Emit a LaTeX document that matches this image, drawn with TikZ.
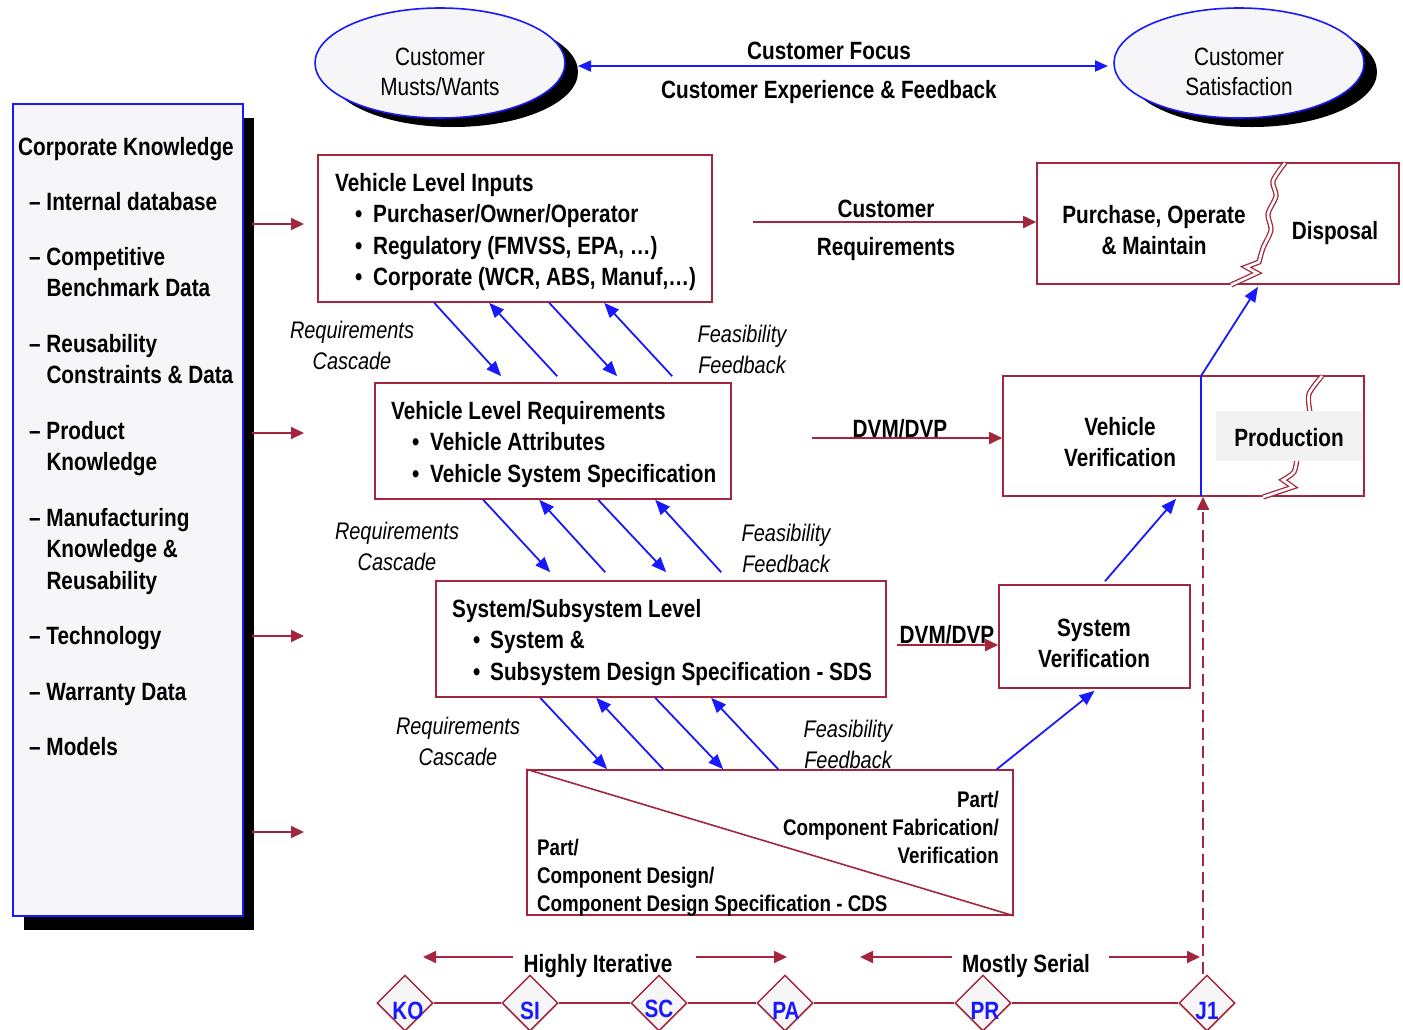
\documentclass[tikz,border=0pt]{standalone}
\usepackage{fontspec}
\setmainfont{Liberation Sans}[FakeStretch=0.83]
\usetikzlibrary{arrows.meta,shapes.geometric}
\definecolor{mred}{RGB}{163,38,60}
\definecolor{mblue}{RGB}{25,25,255}
\definecolor{pale}{RGB}{246,246,248}
\definecolor{prodgray}{RGB}{242,242,242}
\begin{document}
\begin{tikzpicture}[x=1pt,y=-1pt,
 rbox/.style={draw=mred,line width=1.6pt,inner sep=0pt},
 bt/.style={font=\fontsize{25}{31.5}\selectfont\bfseries,inner sep=0pt,align=left,anchor=base west},
 btc/.style={font=\fontsize{25}{31}\selectfont\bfseries,inner sep=0pt,align=center,anchor=base},
 pt/.style={font=\fontsize{22.6}{28.3}\selectfont\bfseries,inner sep=0pt},
 it/.style={font=\fontsize{24}{31}\selectfont\itshape,inner sep=0pt,align=center,anchor=base},
 rt/.style={font=\fontsize{25}{30.5}\selectfont,inner sep=0pt,align=center,anchor=base},
 rarr/.style={draw=mred,line width=1.8pt,-{Triangle[length=13pt,width=12pt]}},
 barr/.style={draw=mblue,line width=1.8pt,-{Triangle[length=15pt,width=12pt]}},
 squig/.style={draw=mred,double=white,line width=1.3pt,double distance=2.6pt},
 dia/.style={diamond,draw=mred,line width=1.5pt,fill=pale,minimum width=56pt,minimum height=56pt,inner sep=0pt},
 dlab/.style={font=\fontsize{25}{28}\selectfont\bfseries,text=mblue,inner sep=0pt,anchor=base},
 ell/.style={ellipse,draw=mblue,line width=1.6pt,fill=pale,minimum width=250pt,minimum height=110pt,inner sep=0pt},
 ellsh/.style={ellipse,fill=black,minimum width=250pt,minimum height=110pt,inner sep=0pt}
]
\useasboundingbox (0,0) rectangle (1403,1029);

% ---------- Ellipses ----------
\node[ellsh] (e1s) at (453,72) {};
\node[ell] (e1) at (440,63) {};
\node[rt] (e1t) at (440,95.5) {Customer\\Musts/Wants};
\node[ellsh] (e2s) at (1252,72) {};
\node[ell] (e2) at (1239,63) {};
\node[rt] (e2t) at (1239,95.5) {Customer\\Satisfaction};
\coordinate (cfl) at (578,66);
\coordinate (cfr) at (1108,66);
\draw[draw=mblue,line width=1.8pt,{Triangle[length=13pt,width=11pt]}-{Triangle[length=13pt,width=11pt]}] (cfl) -- (cfr);
\node[btc] (cf) at (829,59) {Customer Focus};
\node[btc] (cef) at (829,98) {Customer Experience \& Feedback};

% ---------- Left box ----------
\node[fill=black,minimum width=230pt,minimum height=812pt,inner sep=0pt] (lbs) at (139,524) {};
\node[draw=mblue,fill=pale,line width=1.6pt,minimum width=230pt,minimum height=812pt,inner sep=0pt] (lb) at (128,510) {};
\node[bt] (ck) at (18,155) {Corporate Knowledge};
\node[bt] (k1) at (29,210) {– Internal database};
\node[bt] (k2) at (29,296.5) {– Competitive\\\hphantom{– }Benchmark Data};
\node[bt] (k3) at (29,383.5) {– Reusability\\\hphantom{– }Constraints \& Data};
\node[bt] (k4) at (29,470.5) {– Product\\\hphantom{– }Knowledge};
\node[bt] (k5) at (29,589) {– Manufacturing\\\hphantom{– }Knowledge \&\\\hphantom{– }Reusability};
\node[bt] (k6) at (29,644) {– Technology};
\node[bt] (k7) at (29,700) {– Warranty Data};
\node[bt] (k8) at (29,755) {– Models};
\foreach \yy/\nm in {224/a,433/b,636/c,832/d}{
  \coordinate (ls\nm) at (252,\yy);
  \coordinate (le\nm) at (304,\yy);
  \draw[rarr] (ls\nm) -- (le\nm);
}

% ---------- Boxes ----------
\node[rbox,minimum width=394pt,minimum height=147pt] (vli) at (515,228.5) {};
\node[rbox,minimum width=356pt,minimum height=116pt] (vlr) at (553,441) {};
\node[rbox,minimum width=450pt,minimum height=116pt] (ssl) at (661,639) {};
\node[rbox,minimum width=486pt,minimum height=145pt] (part) at (770,842.5) {};
\node[rbox,minimum width=362pt,minimum height=121pt] (pom) at (1218,223.5) {};
\node[rbox,minimum width=361pt,minimum height=120pt] (vvp) at (1183.5,436) {};
\node[rbox,minimum width=191pt,minimum height=103pt] (sv) at (1094.5,636.5) {};

% texts in boxes
\node[bt] (vlit) at (335,285.5) {Vehicle Level Inputs\\
 \hspace*{20pt}\makebox[18pt][l]{\textbullet}Purchaser/Owner/Operator\\
 \hspace*{20pt}\makebox[18pt][l]{\textbullet}Regulatory (FMVSS, EPA, …)\\
 \hspace*{20pt}\makebox[18pt][l]{\textbullet}Corporate (WCR, ABS, Manuf,…)};
\node[bt] (vlrt) at (391,482) {Vehicle Level Requirements\\
 \hspace*{21pt}\makebox[18pt][l]{\textbullet}Vehicle Attributes\\
 \hspace*{21pt}\makebox[18pt][l]{\textbullet}Vehicle System Specification};
\node[bt] (sslt) at (452,680) {System/Subsystem Level\\
 \hspace*{21pt}\makebox[17pt][l]{\textbullet}System \&\\
 \hspace*{21pt}\makebox[17pt][l]{\textbullet}Subsystem Design Specification - SDS};

% POM with squiggle
\draw[squig] plot[smooth] coordinates {(1285,163) (1273,181) (1276,196) (1268,214) (1271,230) (1263,248) (1259,262)} -- (1246,267) -- (1257,273) -- (1231,285);
\node[btc] (pomt) at (1154,254) {Purchase, Operate\\\& Maintain};
\node[btc] (disp) at (1335,239) {Disposal};

% VVP
\draw[squig] plot[smooth] coordinates {(1322,376) (1309,394) (1310,412)};
\draw[squig] plot[smooth] coordinates {(1297,458) (1294,472) (1283,480)} -- (1293,487) -- (1263,497);
\node[fill=prodgray,minimum width=146pt,minimum height=50pt,inner sep=0pt] (prodbg) at (1289,436) {};
\node[btc] (prod) at (1289,446) {Production};
\node[btc] (vvt) at (1120,466) {Vehicle\\Verification};
\coordinate (divtop) at (1201,376);
\coordinate (divbot) at (1201,496);
\draw[draw=mblue,line width=1.6pt] (divtop) -- (divbot);

% SV
\node[btc] (svt) at (1094,667) {System\\Verification};

% Part box
\draw[draw=mred,line width=1.6pt] (part.north west) -- (part.south east);
\node[pt,align=right,anchor=base east] (pr1) at (999,863.6) {Part/\\Component Fabrication/\\Verification};
\node[pt,align=left,anchor=base west] (pl1) at (537,911.6) {Part/\\Component Design/\\Component Design Specification - CDS};

% ---------- Horizontal red arrows ----------
\coordinate (crs) at (753,222);
\draw[rarr] (crs) -- ([yshift=1.5pt]pom.west);
\node[btc] (crt) at (886,255) {Customer\\[7pt]Requirements};
\coordinate (d1s) at (812,438);
\draw[rarr] (d1s) -- ([yshift=-2pt]vvp.west);
\node[btc] (d1t) at (900,437) {DVM/DVP};
\coordinate (d2s) at (897,645);
\draw[rarr] (d2s) -- ([yshift=-8.5pt]sv.west);
\node[btc] (d2t) at (947,643) {DVM/DVP};

% ---------- Cascade arrows ----------
\draw[barr] ([xshift=117pt]vli.south west) -- ([xshift=127pt,yshift=6pt]vlr.north west);
\draw[barr] ([xshift=183pt,yshift=6pt]vlr.north west) -- ([xshift=172pt]vli.south west);
\draw[barr] ([xshift=232pt]vli.south west) -- ([xshift=243pt,yshift=6pt]vlr.north west);
\draw[barr] ([xshift=298pt,yshift=6pt]vlr.north west) -- ([xshift=287pt]vli.south west);
\node[it] (rc1) at (352,369) {Requirements\\Cascade};
\node[it] (ff1) at (742,373) {Feasibility\\Feedback};

\draw[barr] ([xshift=109pt]vlr.south west) -- ([xshift=115pt,yshift=8pt]ssl.north west);
\draw[barr] ([xshift=170pt,yshift=8pt]ssl.north west) -- ([xshift=165pt]vlr.south west);
\draw[barr] ([xshift=224pt]vlr.south west) -- ([xshift=231pt,yshift=8pt]ssl.north west);
\draw[barr] ([xshift=286pt,yshift=8pt]ssl.north west) -- ([xshift=281pt]vlr.south west);
\node[it] (rc2) at (397,570) {Requirements\\Cascade};
\node[it] (ff2) at (786,572) {Feasibility\\Feedback};

\draw[barr] ([xshift=105pt]ssl.south west) -- ([xshift=81pt]part.north west);
\draw[barr] ([xshift=137pt]part.north west) -- ([xshift=161pt]ssl.south west);
\draw[barr] ([xshift=220pt]ssl.south west) -- ([xshift=197pt]part.north west);
\draw[barr] ([xshift=252pt]part.north west) -- ([xshift=276pt]ssl.south west);
\node[it] (rc3) at (458,765) {Requirements\\Cascade};
\node[it] (ff3) at (848,768) {Feasibility\\Feedback};

% ---------- Upward blue arrows ----------
\draw[barr] ([xshift=-17pt]part.north east) -- ([yshift=-2pt]sv.south);
\draw[barr] ([xshift=10.5pt,yshift=3pt]sv.north) -- ([xshift=-7.5pt,yshift=-2pt]vvp.south);
\draw[barr] (divtop) -- ([xshift=40pt,yshift=-2pt]pom.south);

% ---------- Timeline ----------
\node[dia] (ko) at (405,1003) {};
\node[dia] (si) at (530,1003) {};
\node[dia] (sc) at (659,1003) {};
\node[dia] (pa) at (785,1003) {};
\node[dia] (pr) at (983,1003) {};
\node[dia] (j1) at (1207,1003) {};
\draw[draw=mred,line width=1.5pt] (ko.east) -- (si.west) (si.east) -- (sc.west) (sc.east) -- (pa.west) (pa.east) -- (pr.west) (pr.east) -- (j1.west);
\node[dlab] (kol) at (408,1019) {KO};
\node[dlab] (sil) at (530,1019) {SI};
\node[dlab] (scl) at (659,1017) {SC};
\node[dlab] (pal) at (786,1019) {PA};
\node[dlab] (prl) at (985,1019) {PR};
\node[dlab] (j1l) at (1207,1019) {J1};

\draw[draw=mred,line width=1.8pt,dash pattern=on 12pt off 6pt,-{Triangle[length=13pt,width=12pt]}] ([xshift=-4pt]j1.north) -- ([xshift=19.5pt]vvp.south);

\node[btc] (hi) at (598,972) {Highly Iterative};
\coordinate (hia) at (513,957); \coordinate (hib) at (423,957);
\coordinate (hic) at (696,957); \coordinate (hid) at (787,957);
\draw[rarr] (hia) -- (hib);
\draw[rarr] (hic) -- (hid);
\node[btc] (ms) at (1026,972) {Mostly Serial};
\coordinate (msa) at (952,957); \coordinate (msb) at (860,957);
\coordinate (msc) at (1109,957); \coordinate (msd) at (1200,957);
\draw[rarr] (msa) -- (msb);
\draw[rarr] (msc) -- (msd);
\end{tikzpicture}
\end{document}
